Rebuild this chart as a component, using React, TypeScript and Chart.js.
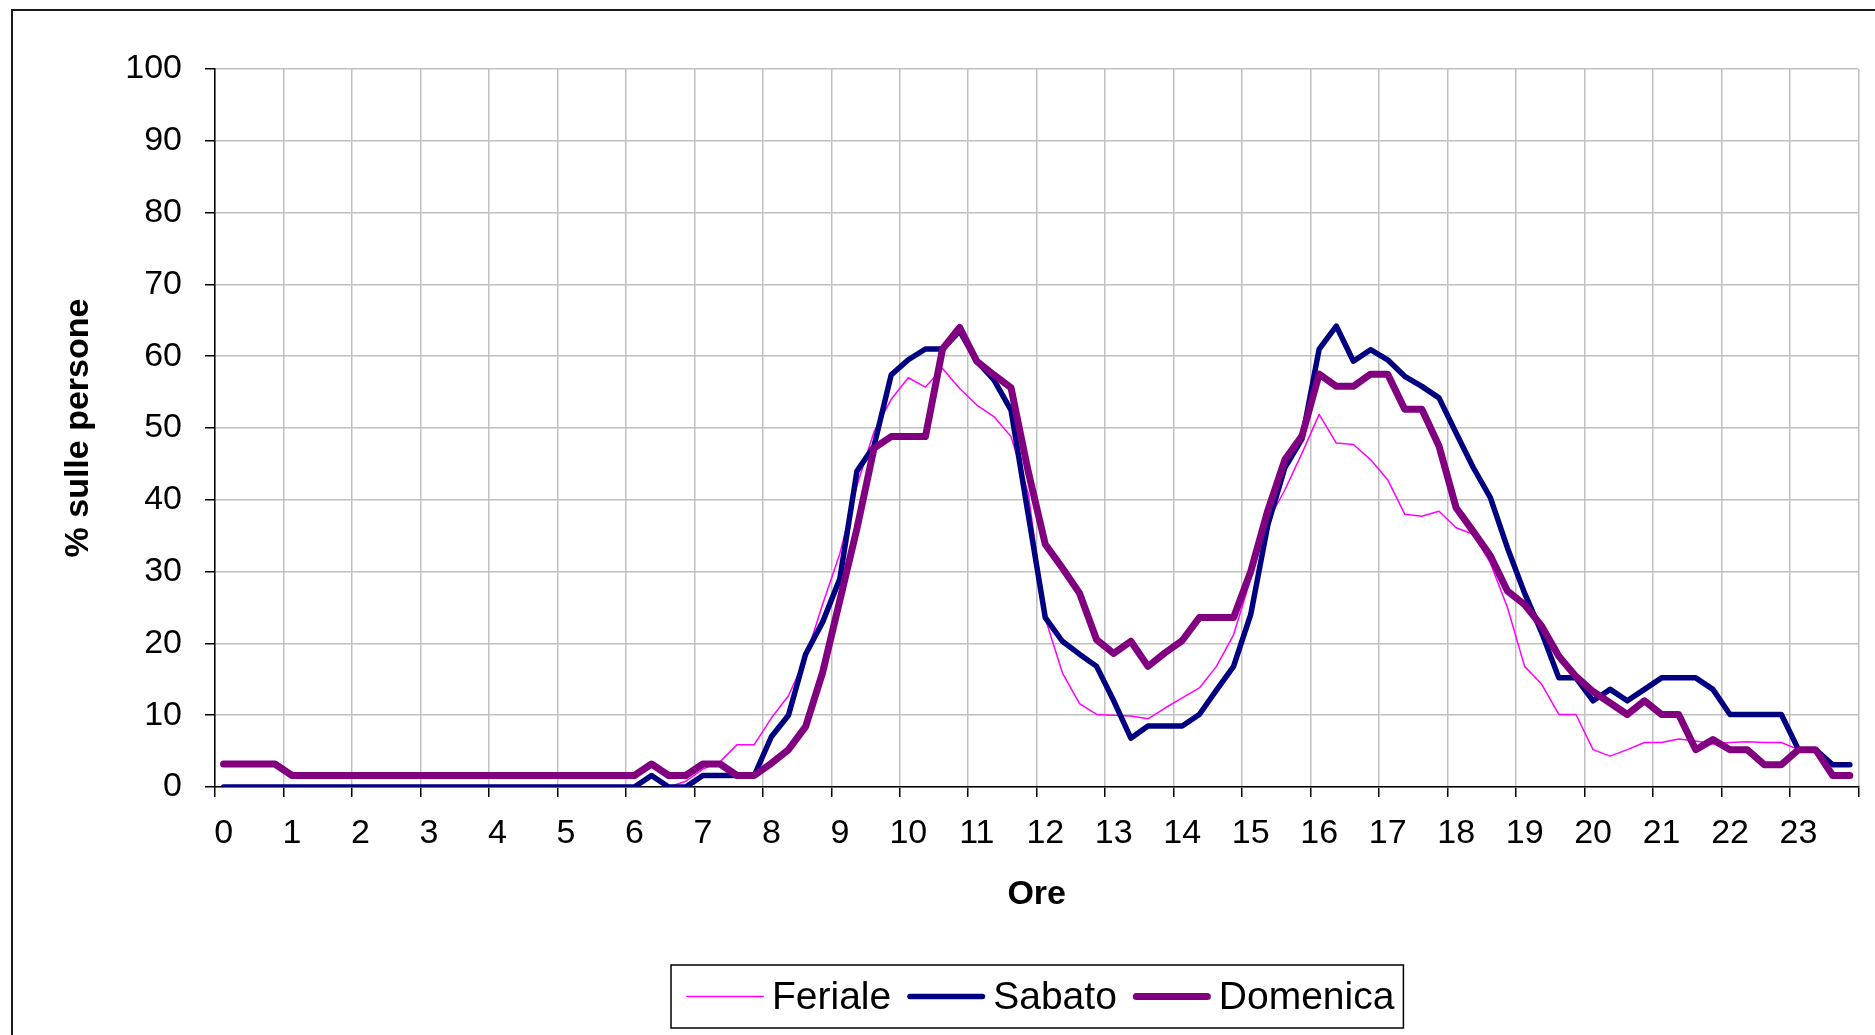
import React, { useEffect, useRef } from 'react';
import { Chart, registerables } from 'chart.js';

Chart.register(...registerables);

// Hour tick labels (x axis)
const HOUR_LABELS: string[] = [
  '0', '1', '2', '3', '4', '5', '6', '7', '8', '9', '10', '11',
  '12', '13', '14', '15', '16', '17', '18', '19', '20', '21', '22', '23',
];

// Series, one value per quarter of an hour (4 per hour, 96 values)
const FERIALE: number[] = [
  0, 0, 0, 0,
  0, 0, 0, 0,
  0, 0, 0, 0,
  0, 0, 0, 0,
  0, 0, 0, 0,
  0, 0, 0, 0,
  0, 1.6, 0, 0.8,
  2.5, 3.5, 5.9, 5.9,
  9.6, 12.7, 18, 25.5,
  32.5, 42, 49.5, 54,
  57, 55.7, 58.3, 55.5,
  53.2, 51.6, 48.8, 41,
  23.5, 15.9, 11.6, 10.1,
  10, 9.9, 9.5, 11,
  12.4, 13.8, 16.8, 21.2,
  29, 37, 41.4, 46.5,
  51.9, 47.9, 47.7, 45.6,
  42.8, 38, 37.7, 38.4,
  36.1, 35.2, 31.2, 25,
  16.8, 14.3, 10.1, 10.1,
  5.2, 4.3, 5.2, 6.2,
  6.2, 6.7, 6.4, 6,
  6.2, 6.3, 6.2, 6.2,
  5.2, 5.2, 3.1, 3.1,
];

const SABATO: number[] = [
  0, 0, 0, 0,
  0, 0, 0, 0,
  0, 0, 0, 0,
  0, 0, 0, 0,
  0, 0, 0, 0,
  0, 0, 0, 0,
  0, 1.6, 0, 0,
  1.6, 1.6, 1.6, 1.6,
  7, 10, 18.5, 23,
  29, 44, 47.5, 57.4,
  59.5, 61, 61, 63.5,
  59.3, 56.7, 52.5, 38,
  23.6, 20.3, 18.5, 16.8,
  12, 6.8, 8.5, 8.5,
  8.5, 10.1, 13.5, 16.8,
  24, 36.5, 44.5, 48.5,
  61, 64.2, 59.3, 60.9,
  59.5, 57.2, 55.8, 54.2,
  49.3, 44.5, 40.3, 33.3,
  27, 21.5, 15.2, 15.2,
  12, 13.6, 12, 13.6,
  15.2, 15.2, 15.2, 13.6,
  10.1, 10.1, 10.1, 10.1,
  5.2, 5.2, 3.1, 3.1,
];

const DOMENICA: number[] = [
  3.2, 3.2, 3.2, 3.2,
  1.6, 1.6, 1.6, 1.6,
  1.6, 1.6, 1.6, 1.6,
  1.6, 1.6, 1.6, 1.6,
  1.6, 1.6, 1.6, 1.6,
  1.6, 1.6, 1.6, 1.6,
  1.6, 3.2, 1.6, 1.6,
  3.2, 3.2, 1.6, 1.6,
  3.3, 5.2, 8.4, 16,
  26, 36, 47.2, 48.8,
  48.8, 48.8, 61, 64,
  59.3, 57.4, 55.6, 44,
  33.8, 30.5, 27, 20.5,
  18.6, 20.3, 16.8, 18.7,
  20.4, 23.6, 23.6, 23.6,
  30, 38.5, 45.6, 48.9,
  57.5, 55.8, 55.8, 57.5,
  57.5, 52.6, 52.6, 47.5,
  38.9, 35.6, 32.2, 27.3,
  25.4, 22.4, 18.2, 15.4,
  13.3, 11.7, 10.1, 12,
  10.1, 10.1, 5.2, 6.6,
  5.2, 5.2, 3.1, 3.1,
  5.2, 5.2, 1.6, 1.6,
];

const SERIES_NAMES = ['Feriale', 'Sabato', 'Domenica'];
const SERIES_COLORS = ['#FF00FF', '#000080', '#800080'];
const SERIES_WIDTHS = [1.5, 5.5, 7];

const FONT = '"Liberation Sans", Arial, Helvetica, sans-serif';
const W = 1875;
const H = 1035;

// quarter-hour index -> position in hours (centre of the quarter)
const toPoints = (arr: number[]) => arr.map((v, i) => ({ x: (i + 0.5) / 4, y: v }));

const framePlugin = {
  id: 'frameAndLegend',
  beforeDraw(chart: any) {
    const ctx = chart.ctx;
    ctx.save();
    ctx.fillStyle = '#fff';
    ctx.fillRect(0, 0, chart.width, chart.height);
    ctx.strokeStyle = '#1a1a1a';
    ctx.lineWidth = 2;
    ctx.strokeRect(12, 10, 4000, 4000);
    ctx.restore();
  },
  afterDraw(chart: any) {
    const ctx = chart.ctx;
    const ds = chart.data.datasets;
    ctx.save();
    ctx.font = `39px ${FONT}`;
    const lineLen = 78;
    const gapLineText = 8;
    const gapItems = 16;
    const padL = 15;
    const padR = 9;
    const widths = ds.map((d: any) => ctx.measureText(d.label).width);
    let total = padL + padR;
    widths.forEach((w: number, i: number) => {
      total += lineLen + gapLineText + w + (i < widths.length - 1 ? gapItems : 0);
    });
    const area = chart.chartArea;
    const cx = (area.left + area.right) / 2;
    const left = Math.round(cx - total / 2);
    const top = 965;
    const h = 63;
    const cy = top + h / 2;
    ctx.fillStyle = '#fff';
    ctx.fillRect(left, top, total, h);
    ctx.strokeStyle = '#000';
    ctx.lineWidth = 1.5;
    ctx.strokeRect(left, top, total, h);
    let x = left + padL;
    ds.forEach((d: any, i: number) => {
      ctx.strokeStyle = d.borderColor;
      ctx.lineWidth = d.borderWidth;
      ctx.lineCap = 'round';
      ctx.beginPath();
      ctx.moveTo(x + d.borderWidth / 2, cy);
      ctx.lineTo(x + lineLen - d.borderWidth / 2, cy);
      ctx.stroke();
      x += lineLen + gapLineText;
      ctx.fillStyle = '#000';
      ctx.textBaseline = 'middle';
      ctx.textAlign = 'left';
      ctx.fillText(d.label, x, cy + 2);
      x += widths[i] + gapItems;
    });
    ctx.restore();
  },
};

export default function App() {
  const canvasRef = useRef<HTMLCanvasElement | null>(null);

  useEffect(() => {
    const canvas = canvasRef.current;
    if (!canvas) return;
    const seriesData = [FERIALE, SABATO, DOMENICA];
    const chart = new Chart(canvas, {
      type: 'line',
      data: {
        datasets: seriesData.map((arr, i) => ({
          label: SERIES_NAMES[i],
          data: toPoints(arr),
          borderColor: SERIES_COLORS[i],
          backgroundColor: SERIES_COLORS[i],
          borderWidth: SERIES_WIDTHS[i],
          pointRadius: 0,
          pointHoverRadius: 0,
          tension: 0,
          fill: false,
          borderJoinStyle: 'round',
          borderCapStyle: 'round',
          order: 3 - i,
        })),
      },
      options: {
        animation: false,
        responsive: true,
        maintainAspectRatio: false,
        layout: { padding: { left: 0, right: 12, top: 69, bottom: 119.6 } },
        plugins: {
          legend: { display: false },
          tooltip: { enabled: false },
          title: { display: false },
        },
        scales: {
          x: {
            type: 'linear',
            min: 0,
            max: 24,
            afterFit: (s: any) => {
              s.height = 128.4;
            },
            ticks: {
              stepSize: 1,
              autoSkip: false,
              maxRotation: 0,
              minRotation: 0,
              labelOffset: 8.6,
              padding: 16.6,
              color: '#000',
              font: { family: FONT, size: 34 },
              callback: (v: any) => (HOUR_LABELS[v] !== undefined ? HOUR_LABELS[v] : ''),
            },
            grid: {
              color: '#c0c0c0',
              lineWidth: 1.5,
              drawTicks: true,
              tickLength: 10,
              tickColor: '#000',
              tickWidth: 1.5,
            },
            border: { display: true, color: '#000', width: 1.5 },
            title: {
              display: true,
              text: 'Ore',
              color: '#000',
              font: { family: FONT, size: 34, weight: 'bold' },
              padding: 0,
            },
          },
          y: {
            type: 'linear',
            min: 0,
            max: 100,
            afterFit: (s: any) => {
              s.width = 215;
            },
            ticks: {
              stepSize: 10,
              padding: 23,
              color: '#000',
              font: { family: FONT, size: 34 },
            },
            grid: {
              color: '#c0c0c0',
              lineWidth: 1.5,
              drawTicks: true,
              tickLength: 10,
              tickColor: '#000',
              tickWidth: 1.5,
            },
            border: { display: true, color: '#000', width: 1.5 },
            title: {
              display: true,
              text: '% sulle persone',
              color: '#000',
              font: { family: FONT, size: 34, weight: 'bold' },
              padding: { top: 58.6, bottom: 0 },
            },
          },
        },
      },
      plugins: [framePlugin],
    } as any);
    return () => {
      chart.destroy();
    };
  }, []);

  return (
    <div style={{ position: 'absolute', left: 0, top: 0, width: W, height: H, background: '#fff' }}>
      <canvas ref={canvasRef} width={W} height={H} style={{ display: 'block', width: W, height: H }} />
    </div>
  );
}
